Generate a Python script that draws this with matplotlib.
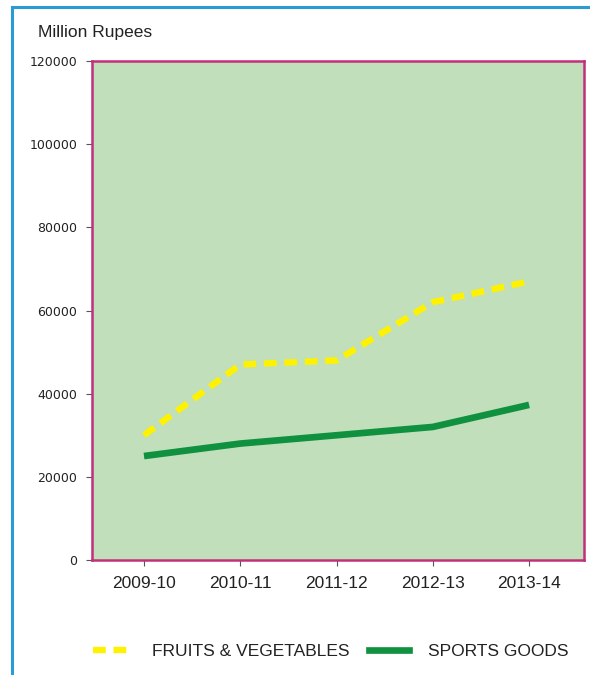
import matplotlib
matplotlib.use('Agg')
import matplotlib.pyplot as plt
from matplotlib.patches import Rectangle
from matplotlib.lines import Line2D

plt.rcParams['font.family'] = ['Liberation Sans', 'DejaVu Sans']

# data
years = ['2009-10', '2010-11', '2011-12', '2012-13', '2013-14']
fruits_veg = [30000, 47000, 48000, 62000, 67000]
sports_goods = [25000, 28000, 30000, 32000, 37300]
y_ticks = [0, 20000, 40000, 60000, 80000, 100000, 120000]

yellow = '#fff200'
green = '#0f9140'
dash = (0, (2.0, 1.2))

fig = plt.figure(figsize=(5.9, 6.75), dpi=100)
W, H = 590, 675

# outer blue frame (runs off right and bottom edges)
fig.patches.append(Rectangle((12 / W, -0.05), 0.99, 1.05 - 7 / H, transform=fig.transFigure,
                             fill=False, edgecolor='#2a9bd4', linewidth=2.2))

ax = fig.add_axes([92 / W, 1 - 560 / H, 492 / W, 499 / H])
ax.set_facecolor('#c1dfba')
for s in ax.spines.values():
    s.set_color('#c2307c')
    s.set_linewidth(1.8)

x = range(len(years))
ax.plot(x, fruits_veg, color=yellow, linewidth=4.6, linestyle=dash,
        dash_joinstyle='round')
ax.plot(x, sports_goods, color=green, linewidth=4.8, solid_joinstyle='round',
        solid_capstyle='butt')

ax.set_xlim(-0.54, 4.57)
ax.set_ylim(0, 120000)
ax.set_yticks(y_ticks)
ax.set_yticklabels([str(v) for v in y_ticks], fontsize=9, color='#222222',
                   family=['DejaVu Sans'])
ax.set_xticks(list(x))
ax.set_xticklabels(years, fontsize=12.5, color='#222222')
ax.tick_params(axis='both', length=4.5, color='#555555', width=0.8)
ax.tick_params(axis='x', pad=7)
ax.tick_params(axis='y', pad=6)

fig.text(38 / W, 1 - 32 / H, 'Million Rupees', fontsize=12.5, color='#222222', va='center')

handles = [
    Line2D([], [], color=yellow, linewidth=4.6, linestyle=dash),
    Line2D([], [], color=green, linewidth=4.8),
]
fig.legend(handles, ['FRUITS & VEGETABLES', 'SPORTS GOODS'], loc='center',
           bbox_to_anchor=(331 / W, 1 - 651 / H), ncol=2, frameon=False,
           fontsize=12.5, handlelength=2.3, handletextpad=1.1, columnspacing=1.1,
           labelcolor='#222222')

fig.savefig('out.png', dpi=100)
